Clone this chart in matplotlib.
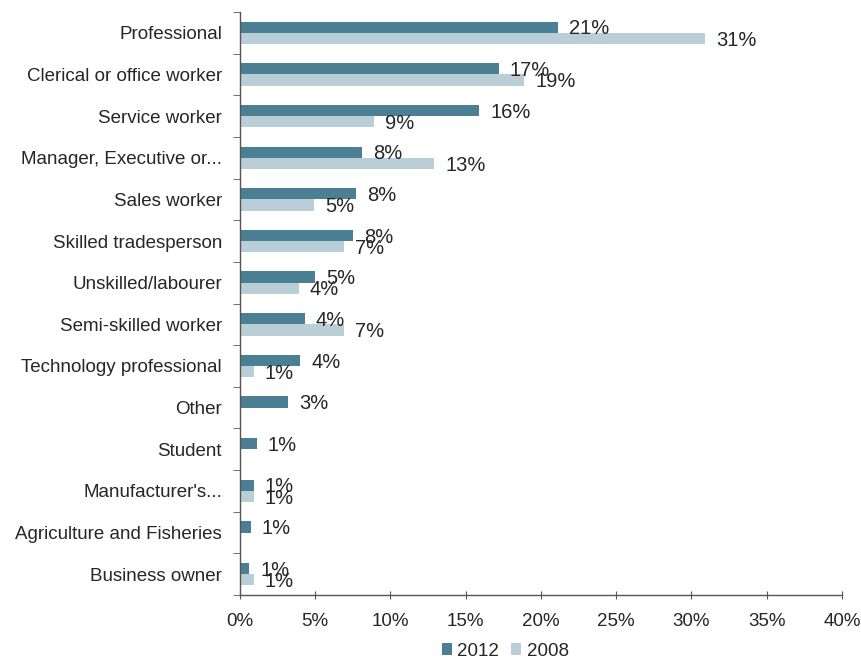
import matplotlib
matplotlib.use("Agg")
import matplotlib.pyplot as plt
import numpy as np

plt.rcParams['font.family'] = ['Liberation Sans', 'DejaVu Sans']

categories = [
    "Professional",
    "Clerical or office worker",
    "Service worker",
    "Manager, Executive or...",
    "Sales worker",
    "Skilled tradesperson",
    "Unskilled/labourer",
    "Semi-skilled worker",
    "Technology professional",
    "Other",
    "Student",
    "Manufacturer's...",
    "Agriculture and Fisheries",
    "Business owner",
]
values_2012 = [21.1, 17.2, 15.9, 8.1, 7.7, 7.5, 5.0, 4.3, 4.0, 3.2, 1.1, 0.9, 0.7, 0.6]
values_2008 = [30.9, 18.9, 8.9, 12.9, 4.9, 6.9, 3.9, 6.9, 0.9, None, None, 0.9, None, 0.9]
series_names = ["2012", "2008"]
x_ticks = [0, 5, 10, 15, 20, 25, 30, 35, 40]

color_2012 = "#4b7f93"
color_2008 = "#b9ced7"
text_color = "#262626"

fig = plt.figure(figsize=(8.62, 6.61), dpi=100)
ax = fig.add_axes([240 / 862, 1 - 595 / 661, (842 - 240) / 862, (595 - 12) / 661])

n = len(categories)
y = np.arange(n)
h = 0.27

v12 = np.array(values_2012, dtype=float)
v08 = np.array([np.nan if v is None else v for v in values_2008], dtype=float)

ax.barh(y - h / 2, v12, height=h, color=color_2012, label=series_names[0])
mask = ~np.isnan(v08)
ax.barh(y[mask] + h / 2, v08[mask], height=h, color=color_2008, label=series_names[1])

for yi, v in zip(y, v12):
    ax.annotate(f"{v:.0f}%", (v, yi - h / 2), xytext=(8, -1.2), textcoords="offset points",
                ha="left", va="center", fontsize=14.5, color=text_color)
for yi, v in zip(y[mask], v08[mask]):
    ax.annotate(f"{v:.0f}%", (v, yi + h / 2), xytext=(8, -1.2), textcoords="offset points",
                ha="left", va="center", fontsize=14.5, color=text_color)

ax.set_xlim(0, 40)
ax.set_ylim(n - 0.5, -0.5)
ax.set_xticks(x_ticks)
ax.set_xticklabels([f"{t}%" for t in x_ticks], fontsize=13.5, color=text_color)
ax.set_yticks(y)
ax.set_yticklabels(categories, fontsize=13.5, color=text_color)
ax.tick_params(axis="y", which="major", length=0, pad=13)
ax.set_yticks(np.arange(-0.5, n, 1.0), minor=True)
ax.tick_params(axis="y", which="minor", length=5, direction="out", color="#555555")
ax.tick_params(axis="x", which="major", length=6, direction="inout", color="#555555", pad=10)

for side in ["top", "right"]:
    ax.spines[side].set_visible(False)
for side in ["left", "bottom"]:
    ax.spines[side].set_color("#555555")
    ax.spines[side].set_linewidth(1.0)

fig.legend(loc="center", bbox_to_anchor=(505 / 862, 1 - 651 / 661), ncol=2, frameon=False,
           fontsize=13.5, handlelength=0.55, handleheight=0.55, handletextpad=0.3,
           columnspacing=0.6, labelcolor=text_color)

fig.savefig("out.png", dpi=100)
